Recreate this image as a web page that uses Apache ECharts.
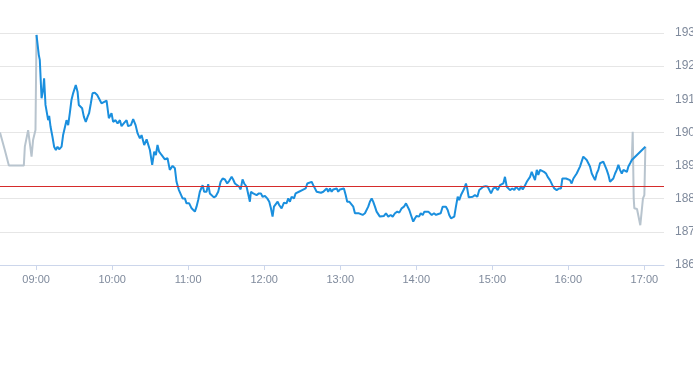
<!DOCTYPE html>
<html>
<head>
<meta charset="utf-8">
<script src="https://cdn.jsdelivr.net/npm/echarts@6/dist/echarts.min.js"></script>
<style>html,body{margin:0;padding:0;background:#fff;}#c{width:693px;height:365px;}</style>
</head>
<body>
<div id="c"></div>
<script>
// minutes since midnight
var preTimes = [511.5, 515.3, 518.5, 530.3, 531.1, 533.7, 536.4, 537.6, 539.5, 540.3];
var preValues = [190.00, 189.47, 189.00, 189.00, 189.57, 190.07, 189.27, 189.77, 190.07, 192.94];

var mainTimes = [
540.3, 540.8, 542.1, 542.9, 544.3, 545.5, 546.3, 547.4, 548.7, 549.5,
550.3, 551.4, 552.9, 554.2, 555.6, 556.9, 558.2, 560.1, 561.3, 562.7,
564.0, 565.3, 566.6, 567.9, 569.2, 571.3, 572.7, 573.7, 575.1, 576.3,
577.7, 579.2, 580.6, 581.8, 583.2, 584.5, 586.3, 588.2, 591.6, 592.9,
595.6, 597.4, 599.5, 600.8, 602.7, 604.3, 606.1, 607.4, 609.5, 611.4,
612.6, 614.8, 616.6, 618.5, 620.1, 621.9, 623.2, 625.3, 627.2, 628.4,
629.8, 631.6, 633.2, 634.5, 635.8, 637.1, 639.0, 640.3, 641.6, 643.7,
645.5, 647.7, 649.5, 650.8, 652.7, 654.2, 655.6, 657.4, 658.7, 660.8,
662.7, 664.0, 665.3, 666.6, 667.9, 669.2, 671.4, 672.6, 674.5, 675.8,
677.1, 678.5, 680.3, 681.9, 683.7, 685.6, 687.2, 689.0, 690.8, 692.4,
694.3, 695.5, 696.9, 698.2, 700.3, 701.4, 702.9, 704.2, 706.1, 707.4,
708.7, 709.5, 711.3, 712.7, 714.0, 715.8, 717.4, 718.7, 720.6, 722.4,
724.0, 725.3, 726.6, 727.7, 729.2, 730.6, 731.8, 733.7, 735.6, 737.6,
739.0, 740.3, 741.6, 743.5, 744.8, 746.1, 747.4, 748.7, 750.0, 751.3,
752.7, 754.0, 755.5, 757.4, 758.7, 760.0, 761.4, 762.6, 764.8, 766.6,
767.9, 769.3, 770.5, 771.9, 773.2, 774.5, 775.8, 777.2, 778.4, 779.8,
781.1, 782.9, 784.3, 785.5, 787.1, 788.4, 790.3, 791.6, 793.0, 794.8,
796.3, 797.7, 799.5, 800.8, 802.1, 803.4, 804.8, 806.0, 807.4, 808.7,
810.0, 811.3, 812.7, 814.5, 816.1, 817.9, 819.8, 821.4, 823.2, 825.0,
826.6, 828.5, 830.3, 831.9, 833.2, 834.5, 835.8, 837.6, 839.0, 840.3,
842.2, 843.5, 845.1, 846.4, 847.7, 849.5, 850.8, 852.2, 854.0, 855.6,
857.4, 859.3, 860.8, 862.1, 863.4, 864.8, 866.0, 867.4, 868.7, 870.0,
871.3, 872.7, 873.9, 875.3, 876.6, 877.9, 879.2, 880.2, 881.4, 882.9,
884.5, 886.3, 888.2, 889.7, 891.1, 892.9, 894.8, 896.4, 897.4, 899.0,
900.8, 902.7, 904.3, 906.1, 907.4, 908.7, 910.0, 911.4, 912.6, 914.0,
915.8, 917.4, 918.7, 920.1, 921.3, 922.7, 924.0, 925.3, 927.2, 928.4,
929.8, 931.1, 932.4, 933.7, 935.1, 936.3, 937.7, 939.0, 940.8, 942.4,
943.7, 945.5, 947.4, 948.9, 950.8, 952.6, 954.2, 955.3, 956.8, 958.2,
959.5, 961.3, 962.6, 964.0, 965.3, 966.6, 967.9, 969.2, 970.6, 971.8,
973.2, 974.5, 975.8, 977.1, 978.5, 979.7, 981.1, 982.4, 983.7, 985.0,
986.4, 987.6, 989.0, 990.3, 991.6, 992.9, 994.3, 995.5, 996.9, 998.2,
999.5, 1000.8, 1002.2, 1003.5, 1004.8, 1006.2, 1007.4, 1008.8, 1010.1, 1020.8
];
var mainValues = [
192.94, 192.89, 192.34, 192.19, 191.03, 191.28, 191.63, 190.83, 190.78, 190.37,
190.50, 190.17, 189.87, 189.57, 189.47, 189.57, 189.49, 189.57, 189.92, 189.87,
190.37, 190.22, 190.58, 190.98, 191.18, 191.43, 191.23, 190.83, 190.83, 190.73,
190.47, 190.32, 190.47, 190.58, 190.88, 191.18, 191.20, 191.13, 190.88, 190.83,
190.96, 190.43, 190.58, 190.32, 190.37, 190.27, 190.37, 190.19, 190.29, 190.37,
190.19, 190.22, 190.40, 190.22, 189.97, 189.82, 189.92, 189.62, 189.79, 189.77,
189.47, 189.02, 189.42, 189.32, 189.62, 189.42, 189.32, 189.37, 189.19, 189.22,
188.87, 188.99, 188.92, 188.51, 188.26, 188.21, 188.01, 188.01, 187.86, 187.86,
187.71, 187.76, 187.61, 187.76, 187.96, 188.21, 188.41, 188.21, 188.21, 188.44,
188.16, 188.21, 188.04, 188.08, 188.21, 188.51, 188.61, 188.58, 188.46, 188.54,
188.66, 188.58, 188.46, 188.41, 188.36, 188.28, 188.58, 188.46, 188.36, 188.31,
187.91, 188.21, 188.16, 188.21, 188.11, 188.16, 188.16, 188.06, 188.08, 188.01,
187.91, 187.71, 187.46, 187.76, 187.71, 187.91, 187.81, 187.71, 187.88, 187.86,
188.01, 187.91, 188.06, 188.01, 188.16, 188.11, 188.21, 188.16, 188.26, 188.21,
188.31, 188.46, 188.48, 188.51, 188.41, 188.36, 188.21, 188.18, 188.18, 188.21,
188.26, 188.31, 188.21, 188.31, 188.21, 188.28, 188.24, 188.31, 188.21, 188.28,
188.26, 188.31, 188.11, 187.91, 187.91, 187.86, 187.76, 187.56, 187.61, 187.56,
187.58, 187.51, 187.56, 187.61, 187.76, 187.91, 188.01, 187.91, 187.76, 187.61,
187.56, 187.46, 187.51, 187.48, 187.56, 187.46, 187.51, 187.46, 187.56, 187.61,
187.58, 187.71, 187.76, 187.86, 187.81, 187.66, 187.51, 187.31, 187.41, 187.48,
187.46, 187.56, 187.51, 187.61, 187.56, 187.61, 187.56, 187.51, 187.56, 187.51,
187.54, 187.56, 187.76, 187.81, 187.76, 187.66, 187.51, 187.41, 187.36, 187.46,
187.76, 188.06, 187.96, 188.11, 188.16, 188.31, 188.46, 188.31, 188.04, 188.08,
188.06, 188.11, 188.06, 188.26, 188.26, 188.36, 188.38, 188.36, 188.41, 188.16,
188.31, 188.34, 188.26, 188.41, 188.41, 188.46, 188.66, 188.36, 188.41, 188.26,
188.31, 188.26, 188.36, 188.31, 188.26, 188.38, 188.28, 188.36, 188.51, 188.46,
188.66, 188.81, 188.76, 188.56, 188.87, 188.72, 188.87, 188.89, 188.81, 188.76,
188.66, 188.56, 188.41, 188.31, 188.26, 188.31, 188.31, 188.61, 188.66, 188.61,
188.66, 188.56, 188.46, 188.61, 188.56, 188.76, 188.81, 188.97, 189.02, 189.27,
189.22, 189.17, 189.07, 188.97, 188.76, 188.81, 188.56, 188.76, 188.87, 189.07,
189.02, 189.12, 189.07, 188.87, 188.72, 188.51, 188.56, 188.61, 188.76, 188.87,
189.02, 188.87, 188.76, 188.87, 188.92, 188.81, 188.97, 189.07, 189.17, 189.57
];

var postTimes = [1010.1, 1010.8, 1011.6, 1012.1, 1014.2, 1016.8, 1018.9, 1020.0, 1020.8];
var postValues = [189.17, 190.02, 188.01, 187.71, 187.69, 187.20, 188.01, 188.11, 189.57];

var referencePrice = 188.37;
var hourTicks = [540, 600, 660, 720, 780, 840, 900, 960, 1020];
var yTicks = [186, 187, 188, 189, 190, 191, 192, 193];

function zip(t, v) { return t.map(function (x, i) { return [x, v[i]]; }); }
function fmt(m) {
  var h = Math.floor(m / 60), mm = Math.round(m % 60);
  return (h < 10 ? '0' : '') + h + ':' + (mm < 10 ? '0' : '') + mm;
}

var chart = echarts.init(document.getElementById('c'), null, {renderer: 'canvas'});
chart.setOption({
  animation: false,
  backgroundColor: '#ffffff',
  grid: {left: 0, right: 29, top: 33, bottom: 100, containLabel: false, outerBoundsMode: 'none'},
  xAxis: {
    type: 'value',
    min: 511.5,
    max: 1035.5,
    axisLine: {show: true, lineStyle: {color: '#ccd6eb', width: 1}},
    axisTick: {show: true, customValues: hourTicks, length: 5, lineStyle: {color: '#ccd6eb'}},
    axisLabel: {
      customValues: hourTicks,
      formatter: function (v) { return fmt(v); },
      color: '#7f8a9c', fontSize: 11, fontFamily: 'Liberation Sans, Arial, sans-serif', margin: 9
    },
    splitLine: {show: false}
  },
  yAxis: {
    type: 'value',
    position: 'right',
    min: yTicks[0],
    max: yTicks[yTicks.length - 1],
    interval: 1,
    axisLine: {show: false},
    axisTick: {show: false},
    axisLabel: {color: '#7f8a9c', fontSize: 12, fontFamily: 'Liberation Sans, Arial, sans-serif', margin: 11},
    splitLine: {show: true, lineStyle: {color: '#e6e6e6', width: 1}}
  },
  series: [
    {
      type: 'line', name: 'pre', data: zip(preTimes, preValues),
      showSymbol: false, symbol: 'none',
      lineStyle: {color: '#b8c4ce', width: 2}, z: 2
    },
    {
      type: 'line', name: 'post', data: zip(postTimes, postValues),
      showSymbol: false, symbol: 'none',
      lineStyle: {color: '#b8c4ce', width: 2}, z: 2
    },
    {
      type: 'line', name: 'main', data: zip(mainTimes, mainValues),
      showSymbol: false, symbol: 'none',
      lineStyle: {color: '#1a8fde', width: 2}, z: 3,
      markLine: {
        silent: true, symbol: ['none', 'none'],
        label: {show: false},
        lineStyle: {color: '#d52b2b', width: 1, type: 'solid'},
        data: [{yAxis: referencePrice}]
      }
    }
  ]
});
</script>
</body>
</html>
